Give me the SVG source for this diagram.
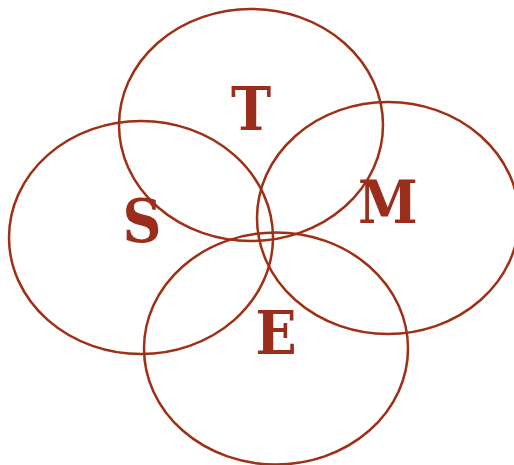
<svg xmlns="http://www.w3.org/2000/svg" width="514" height="465" viewBox="0 0 514 465">
<style>
.c{fill:none;stroke:#9e3015;stroke-width:2.5}
.t{font-family:"DejaVu Serif Condensed","DejaVu Serif",serif;font-stretch:condensed;font-weight:bold;font-size:60px;fill:#9b2d1c;text-anchor:middle}
</style>
<rect width="514" height="465" fill="#ffffff"/>
<g id="T"><ellipse class="c" cx="251" cy="125" rx="132" ry="116"/><text class="t" x="251" y="130">T</text></g>
<g id="S"><ellipse class="c" cx="141" cy="237.5" rx="132" ry="116.5"/><text class="t" x="142" y="242">S</text></g>
<g id="M"><ellipse class="c" cx="388" cy="218" rx="131" ry="116"/><text class="t" x="388" y="223">M</text></g>
<g id="E"><ellipse class="c" cx="276" cy="348.5" rx="132" ry="116"/><text class="t" x="276" y="354">E</text></g>
</svg>
